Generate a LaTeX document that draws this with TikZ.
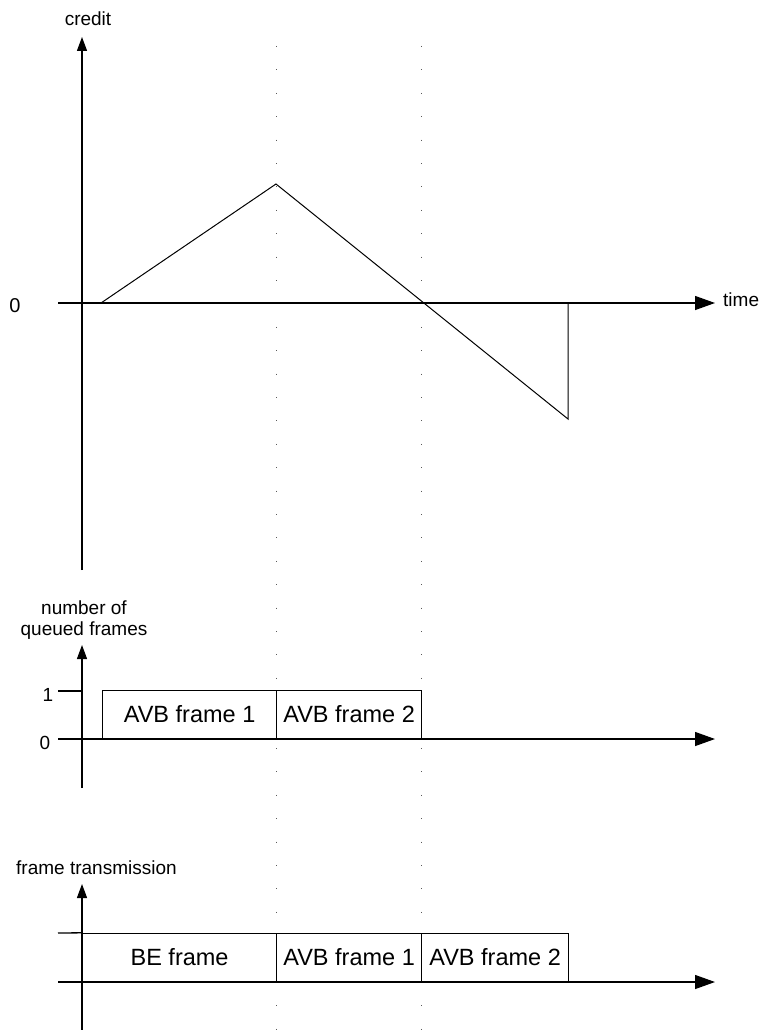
\documentclass[tikz,border=0pt]{standalone}
\usepackage{fontspec}
\setmainfont{Liberation Sans}
\usetikzlibrary{arrows.meta}
\begin{document}
\begin{tikzpicture}[x=1pt,y=-1pt,
  axis/.style={line width=1.3pt,black},
  harrow/.style={axis,-{Triangle[length=20pt,width=14pt]}},
  varrow/.style={axis,-{Triangle[length=14pt,width=10pt]}},
  curve/.style={line width=1pt,black},
  marker/.style={line width=1pt,gray!70!black,dash pattern=on 1pt off 22.4pt},
  lbl/.style={font=\fontsize{19}{21.5}\selectfont,inner sep=0pt},
  framebox/.style={draw,line width=1.2pt,inner sep=0pt,anchor=south west,
    minimum height=48pt,font=\fontsize{23.5}{26}\selectfont}]
\useasboundingbox (0,0) rectangle (763,1030);

% time markers
\coordinate (m1top) at (276,46);  \coordinate (m1bot) at (276,1030);
\coordinate (m2top) at (421,46);  \coordinate (m2bot) at (421,1030);
\draw[marker] (m1top) -- (m1bot);
\draw[marker] (m2top) -- (m2bot);

% ---- credit diagram ----
\coordinate (cbot) at (82,570);
\coordinate (ctop) at (82,37);
\coordinate (zl) at (58,303);
\coordinate (zr) at (715,303);
\draw[varrow] (cbot) -- (ctop);
\draw[harrow] (zl) -- (zr);
\node[lbl] (credit) at (88,19) {credit};
\node[lbl,anchor=west] (time) at (723,300) {time};
\node[lbl,font=\fontsize{20}{22}\selectfont] (zero) at (15,306) {0};

\coordinate (c0) at (101,303);
\coordinate (c1) at (276,184);
\coordinate (c2) at (568,419);
\coordinate (c3) at (568,303);
\draw[curve,line join=miter] (c0) -- (c1) -- (c2) -- (c3);

% ---- queued frames ----
\coordinate (qbot) at (82,788);
\coordinate (qtop) at (82,645);
\coordinate (ql) at (58,739);
\coordinate (qr) at (715,739);
\coordinate (t1l) at (58,691);
\coordinate (t1r) at (82,691);
\draw[varrow] (qbot) -- (qtop);
\draw[harrow] (ql) -- (qr);
\draw[axis] (t1l) -- (t1r);
\node[lbl,align=center] (qlabel) at (84,620) {number of\\queued frames};
\node[lbl] (one) at (48,695) {1};
\node[lbl] (qzero) at (45,743) {0};
\node[framebox,minimum width=174pt] (qa1) at (102,739) {AVB frame 1};
\node[framebox,minimum width=145pt] (qa2) at (276,739) {AVB frame 2};

% ---- frame transmission ----
\coordinate (fbot) at (82,1030);
\coordinate (ftop) at (82,884);
\coordinate (fl) at (58,982);
\coordinate (fr) at (715,982);
\coordinate (ftl) at (58,933);
\draw[varrow] (fbot) -- (ftop);
\draw[harrow] (fl) -- (fr);
\node[lbl,anchor=west] (flabel) at (16,868) {frame transmission};
\node[framebox,minimum width=194pt] (be) at (82,982) {BE frame};
\node[framebox,minimum width=145pt] (fa1) at (276,982) {AVB frame 1};
\node[framebox,minimum width=147pt] (fa2) at (421,982) {AVB frame 2};
\draw[axis] (ftl) -- (be.north west);
\end{tikzpicture}
\end{document}
